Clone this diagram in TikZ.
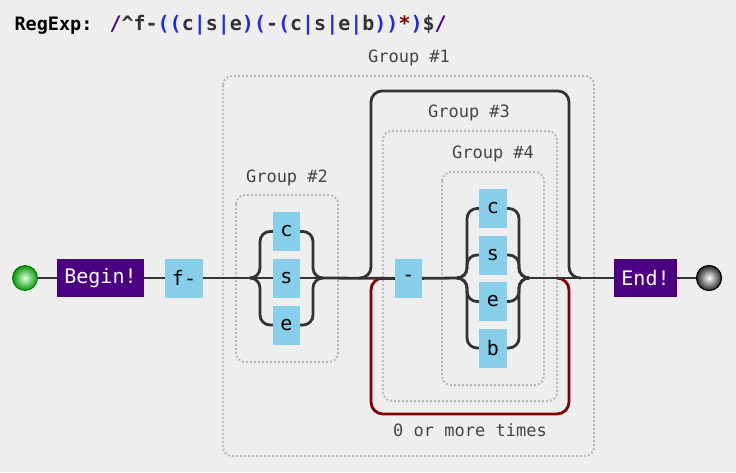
\documentclass[tikz,border=0pt]{standalone}
\usepackage{fontspec}
\usepackage{xcolor}
\usepackage{tikz}
\usetikzlibrary{positioning}
\setmonofont{DejaVu Sans Mono}
\definecolor{PageGrey}{HTML}{EEEEEE}
\definecolor{RailGrey}{HTML}{333333}
\definecolor{LitBlue}{HTML}{87CEEB}
\definecolor{AnchorPurple}{HTML}{4B0082}
\definecolor{GroupDots}{HTML}{BBBBBB}
\definecolor{LabelGrey}{HTML}{444444}
\definecolor{LoopRed}{HTML}{800000}
\definecolor{ParenBlue}{HTML}{1E28F0}
\newcommand{\rxp}[1]{\textcolor{ParenBlue}{#1}}

\begin{document}
\begin{tikzpicture}[x=1pt, y=-1pt,
            litbox/.style={fill=LitBlue, inner sep=0pt, minimum width=27pt, minimum height=39pt, font=\ttfamily\fontsize{20}{24}\selectfont},
            anchorbox/.style={fill=AnchorPurple, text=white, inner sep=0pt, minimum height=38pt, font=\ttfamily\fontsize{20}{24}\selectfont},
            grpbox/.style={draw=GroupDots, line width=2pt, dash pattern=on 2pt off 2pt, rounded corners=9pt},
            grplabel/.style={text=LabelGrey, font=\ttfamily\fontsize{17}{20}\selectfont},
            rail/.style={draw=RailGrey, line width=2.8pt},
            looprail/.style={draw=LoopRed, line width=2.8pt}
        ]
            \fill[PageGrey] (0,0) rectangle (736,472);
            \useasboundingbox (0,0) rectangle (736,472);

            % title
            \node[anchor=base west, font=\ttfamily\bfseries\fontsize{18.5}{22}\selectfont] (rxlabel) at (11,30) {RegExp:};
            \node[anchor=base west, text=RailGrey, font=\ttfamily\bfseries\fontsize{20}{24}\selectfont] (rxtext) at (106,30) {\textcolor{AnchorPurple}{/}\textasciicircum f-\rxp{((}c\rxp{|}s\rxp{|}e\rxp{)(}-\rxp{(}c\rxp{|}s\rxp{|}e\rxp{|}b\rxp{))}\textcolor{LoopRed}{*}\rxp{)}\$\textcolor{AnchorPurple}{/}};

            % groups
            \draw[grpbox] (223,76) rectangle (594,456);
            \draw[grpbox] (236,195) rectangle (338,362);
            \draw[grpbox] (383,131) rectangle (557,401);
            \draw[grpbox] (442,172) rectangle (544,385);
            \node[grplabel] (grp1) at (409,58) {Group \#1};
            \node[grplabel] (grp2) at (287,178) {Group \#2};
            \node[grplabel] (grp3) at (469,113) {Group \#3};
            \node[grplabel] (grp4) at (493,154) {Group \#4};
            \node[grplabel] (times) at (470,430) {0 or more times};

            % nodes
            \node[circle, inner sep=0pt, minimum size=25pt, draw=green!45!black, line width=0.8pt, inner color=green!10!white, outer color=green!60!black] (startball) at (25,278) {};
            \node[anchorbox, minimum width=87pt] (begin) at (100.5,278) {Begin!};
            \node[litbox, minimum width=38pt] (flit) at (184,278) {f-};
            \node[litbox] (c2) at (286.5,231.5) {c};
            \node[litbox] (s2) at (286.5,278) {s};
            \node[litbox] (e2) at (286.5,325) {e};
            \node[litbox] (hyph) at (408.5,278.5) {-};
            \node[litbox, minimum width=28pt] (c4) at (493,208.5) {c};
            \node[litbox, minimum width=28pt] (s4) at (493,255) {s};
            \node[litbox, minimum width=28pt] (e4) at (493,301.5) {e};
            \node[litbox, minimum width=28pt] (b4) at (493,348) {b};
            \node[anchorbox, minimum width=63pt] (finish) at (645.5,278) {End!};
            \node[circle, inner sep=0pt, minimum size=25pt, draw=black, line width=1.2pt, inner color=white, outer color=black!85] (endball) at (709,278) {};

            \coordinate (g2in) at (250,278);
            \coordinate (g2out) at (323,278);
            \coordinate (g4in) at (458,278);
            \coordinate (g4out) at (528,278);
            \coordinate (skipin) at (359,278);
            \coordinate (skipout) at (581,278);
            \coordinate (rptin) at (383,278);
            \coordinate (rptout) at (557,278);

            % loops
            \draw[looprail, rounded corners=12pt] (rptin) -- (371,278) -- (371,414) -- (569,414) -- (569,278) -- (rptout);
            \draw[rail, rounded corners=11pt] (skipin) -- (371,278) -- (371,91) -- (569,91) -- (569,278) -- (skipout);

            % main line
            \draw[rail] (startball) -- (begin);
            \draw[rail] (begin) -- (flit);
            \draw[rail] (flit) -- (g2in);
            \draw[rail] (g2in) -- (s2);
            \draw[rail] (s2) -- (g2out);
            \draw[rail] (g2out) -- (hyph);
            \draw[rail] (hyph) -- (g4in);
            \draw[rail] (g4out) -- (finish);
            \draw[rail] (finish) -- (endball);

            % group 2 branches
            \draw[rail, rounded corners=10pt] (g2in) -| (260,231.5) -- (c2);
            \draw[rail, rounded corners=10pt] (g2in) -| (260,325) -- (e2);
            \draw[rail, rounded corners=10pt] (c2) -| (313,278) -- (g2out);
            \draw[rail, rounded corners=10pt] (e2) -| (313,278) -- (g2out);

            % group 4 branches
            \draw[rail, rounded corners=10pt] (g4in) -| (467,208.5) -- (c4);
            \draw[rail, rounded corners=10pt] (g4in) -| (467,255) -- (s4);
            \draw[rail, rounded corners=10pt] (g4in) -| (467,301.5) -- (e4);
            \draw[rail, rounded corners=10pt] (g4in) -| (467,348) -- (b4);
            \draw[rail, rounded corners=10pt] (c4) -| (519,278) -- (g4out);
            \draw[rail, rounded corners=10pt] (s4) -| (519,278) -- (g4out);
            \draw[rail, rounded corners=10pt] (e4) -| (519,278) -- (g4out);
            \draw[rail, rounded corners=10pt] (b4) -| (519,278) -- (g4out);

        \end{tikzpicture}
\end{document}
